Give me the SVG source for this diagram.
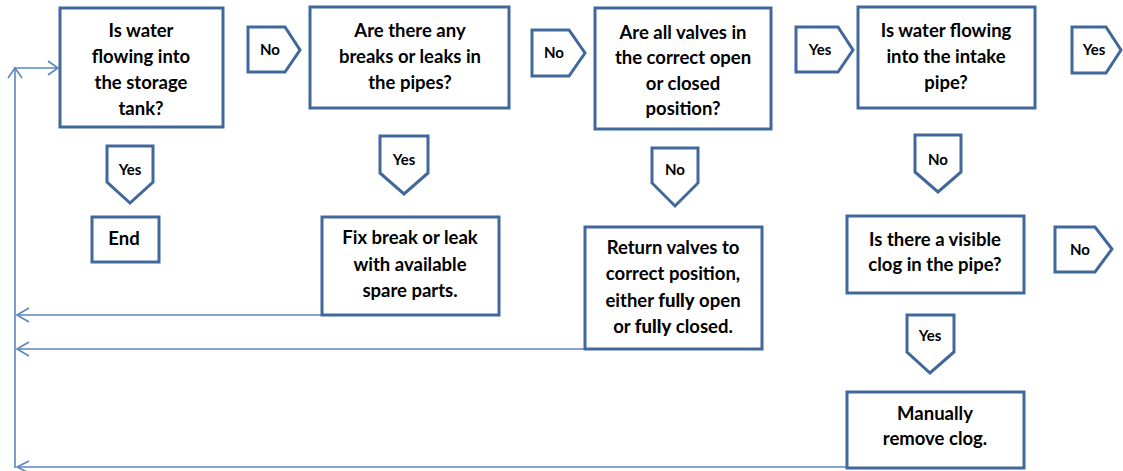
<svg xmlns="http://www.w3.org/2000/svg" width="1123" height="471" viewBox="0 0 1123 471">
<style>
.box{fill:#fff;stroke:#41689A;stroke-width:3}
.tag{fill:#fff;stroke:#41689A;stroke-width:3;stroke-linejoin:miter}
.t{font-family:Lato,"Liberation Sans",sans-serif;font-weight:700;font-size:18.5px;fill:#000;text-anchor:middle}
.s{font-size:15px}
.k{font-weight:900}
.c{fill:none;stroke:#5B86BE;stroke-width:1.6}
.ah{fill:none;stroke:#5B86BE;stroke-width:1.6}
</style>
<rect width="1123" height="471" fill="#fff"/>
<g id="connectors">
<path class="c" d="M15 468 V68 H58"/>
<path class="ah" d="M8 78 L15 68 L22 78"/>
<path class="ah" d="M48 61 L58 68 L48 75"/>
<path class="c" d="M322 315 H17"/>
<path class="ah" d="M29 308 L17 315 L29 322"/>
<path class="c" d="M585 349 H17"/>
<path class="ah" d="M29 342 L17 349 L29 356"/>
<path class="c" d="M847 467 H17"/>
<path class="ah" d="M29 461 L17 467 L29 473"/>
</g>
<g id="q1"><rect class="box" x="60" y="8" width="163" height="119"/>
<text class="t" x="141" y="37">Is water</text><text class="t" x="141" y="63">flowing into</text><text class="t" x="141" y="89">the storage</text><text class="t" x="141" y="115">tank?</text></g>
<g id="no1"><path class="tag" d="M248 27 H285 L300 50 L285 72 H248 Z"/><text class="t s" x="270" y="55">No</text></g>
<g id="q2"><rect class="box" x="310" y="7" width="199" height="101"/>
<text class="t" x="410" y="37">Are there any</text><text class="t" x="410" y="63">breaks or leaks in</text><text class="t" x="410" y="89">the pipes?</text></g>
<g id="no2"><path class="tag" d="M532 30 H569 L585 53 L569 76 H532 Z"/><text class="t s" x="554" y="58">No</text></g>
<g id="q3"><rect class="box" x="595" y="8" width="176" height="121"/>
<text class="t" x="683" y="39">Are all valves in</text><text class="t" x="683" y="64">the correct open</text><text class="t" x="683" y="90">or closed</text><text class="t" x="683" y="115">position?</text></g>
<g id="yes3"><path class="tag" d="M796 27 H838 L853 50 L838 72 H796 Z"/><text class="t s" x="820" y="55">Yes</text></g>
<g id="q4"><rect class="box" x="858" y="7" width="177" height="101"/>
<text class="t" x="946" y="37">Is water flowing</text><text class="t" x="946" y="63">into the intake</text><text class="t" x="946" y="89">pipe?</text></g>
<g id="yes4"><path class="tag" d="M1072 27 H1106 L1121 50 L1106 73 H1072 Z"/><text class="t s" x="1094" y="55">Yes</text></g>
<g id="yes1"><path class="tag" d="M107 146 H153 V182 L130 203 L107 182 Z"/><text class="t s" x="130" y="175">Yes</text></g>
<g id="end"><rect class="box" x="92" y="217" width="67" height="45"/><text class="t" x="124" y="245">End</text></g>
<g id="yes2"><path class="tag" d="M380 136 H428 V173 L404 194 L380 173 Z"/><text class="t s" x="404" y="165">Yes</text></g>
<g id="fix"><rect class="box" x="322" y="217" width="177" height="98"/>
<text class="t" x="410" y="244">Fix break or leak</text><text class="t" x="410" y="271">with available</text><text class="t" x="410" y="297">spare parts.</text></g>
<g id="no3"><path class="tag" d="M652 148 H698 V183 L675 206 L652 183 Z"/><text class="t s" x="675" y="175">No</text></g>
<g id="ret"><rect class="box" x="585" y="227" width="177" height="122"/>
<text class="t" x="673" y="254">Return valves to</text><text class="t" x="673" y="280">correct position,</text><text class="t" x="673" y="307">either <tspan class="k">fully</tspan> open</text><text class="t" x="673" y="333">or <tspan class="k">fully</tspan> closed.</text></g>
<g id="no4"><path class="tag" d="M915 135 H961 V172 L938 192 L915 172 Z"/><text class="t s" x="938" y="165">No</text></g>
<g id="clog"><rect class="box" x="847" y="216" width="177" height="77"/>
<text class="t" x="935" y="246">Is there a visible</text><text class="t" x="935" y="271">clog in the pipe?</text></g>
<g id="no5"><path class="tag" d="M1055 227 H1095 L1112 249 L1095 272 H1055 Z"/><text class="t s" x="1080" y="255">No</text></g>
<g id="yes5"><path class="tag" d="M907 315 H954 V352 L930 373 L907 352 Z"/><text class="t s" x="930" y="341">Yes</text></g>
<g id="manual"><rect class="box" x="847" y="392" width="177" height="76"/>
<text class="t" x="935" y="420">Manually</text><text class="t" x="935" y="445">remove clog.</text></g>
</svg>
